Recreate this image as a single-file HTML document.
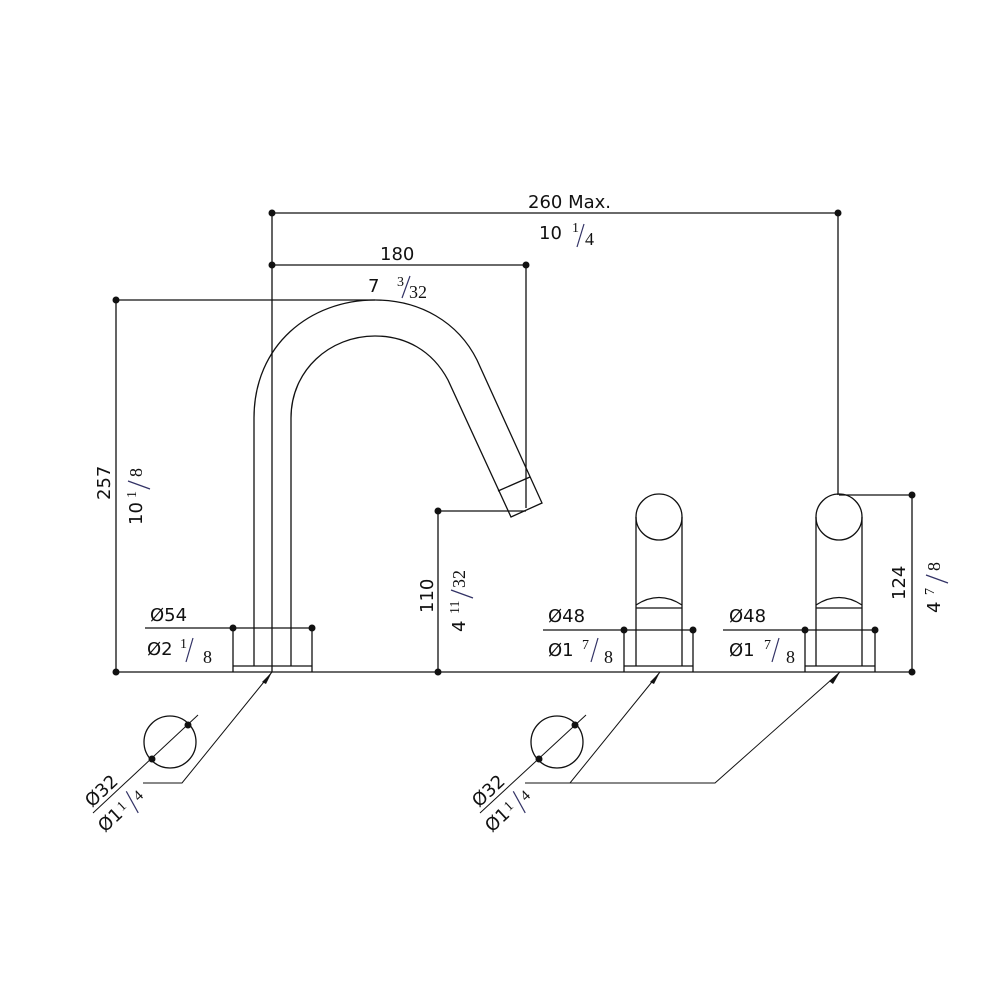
<!DOCTYPE html>
<html><head><meta charset="utf-8"><style>
html,body{margin:0;padding:0;background:#fff;}
svg{display:block;}
text{font-family:"DejaVu Sans","Liberation Sans",sans-serif;fill:#111;}
.f{font-family:"Liberation Serif",serif;}
</style></head><body>
<svg width="1000" height="1000" viewBox="0 0 1000 1000" xmlns="http://www.w3.org/2000/svg">
<g stroke="#111" stroke-width="1.3" fill="none">
<line x1="272" y1="213" x2="838" y2="213"/>
<line x1="272" y1="213" x2="272" y2="672"/>
<line x1="838" y1="213" x2="838" y2="495"/>
<line x1="272" y1="265" x2="526" y2="265"/>
<line x1="526" y1="265" x2="526" y2="508"/>
<line x1="116" y1="300" x2="375" y2="300"/>
<line x1="116" y1="300" x2="116" y2="672"/>
<line x1="116" y1="672" x2="912" y2="672"/>
<path d="M254 666 L254 418 C254 345 310 300 375 300 C420 300 458 322 477 360 L542 503 L511 517 L448 380 C432 350 405 336 375 336 C330 336 291 370 291 418 L291 666"/>
<line x1="498" y1="491" x2="530" y2="477"/>
<line x1="272" y1="300" x2="272" y2="672" stroke-dasharray="14,3,2,3" stroke-width="0.8"/>
<line x1="438" y1="511" x2="526" y2="511"/>
<line x1="438" y1="511" x2="438" y2="672"/>
<line x1="145" y1="628" x2="312" y2="628"/>
<line x1="233" y1="628" x2="233" y2="672"/>
<line x1="312" y1="628" x2="312" y2="672"/>
<line x1="233" y1="666" x2="312" y2="666"/>
<circle cx="659" cy="517" r="23"/>
<line x1="636" y1="517" x2="636" y2="666"/>
<line x1="682" y1="517" x2="682" y2="666"/>
<path d="M636 605 Q659 590 682 605"/>
<line x1="636" y1="608" x2="682" y2="608"/>
<line x1="543" y1="630" x2="693" y2="630"/>
<line x1="624" y1="630" x2="624" y2="672"/>
<line x1="693" y1="630" x2="693" y2="672"/>
<line x1="624" y1="666" x2="693" y2="666"/>
<circle cx="839" cy="517" r="23"/>
<line x1="816" y1="517" x2="816" y2="666"/>
<line x1="862" y1="517" x2="862" y2="666"/>
<path d="M816 605 Q839 590 862 605"/>
<line x1="816" y1="608" x2="862" y2="608"/>
<line x1="723" y1="630" x2="875" y2="630"/>
<line x1="805" y1="630" x2="805" y2="672"/>
<line x1="875" y1="630" x2="875" y2="672"/>
<line x1="805" y1="666" x2="875" y2="666"/>
<line x1="839" y1="495" x2="912" y2="495"/>
<line x1="912" y1="495" x2="912" y2="672"/>
<polyline points="272,672 182,783 143,783" stroke-width="1"/>
<circle cx="170" cy="742" r="26"/>
<line x1="93" y1="813" x2="198" y2="715" stroke-width="1"/>
<polyline points="660,672 570,783 525,783" stroke-width="1"/>
<polyline points="840,672 715,783 570,783" stroke-width="1"/>
<circle cx="557" cy="742" r="26"/>
<line x1="480" y1="813" x2="586" y2="715" stroke-width="1"/>
</g>
<g fill="#111">
<circle cx="272" cy="213" r="3.5"/><circle cx="838" cy="213" r="3.5"/>
<circle cx="272" cy="265" r="3.5"/><circle cx="526" cy="265" r="3.5"/>
<circle cx="116" cy="300" r="3.5"/><circle cx="116" cy="672" r="3.5"/>
<circle cx="438" cy="511" r="3.5"/><circle cx="438" cy="672" r="3.5"/>
<circle cx="233" cy="628" r="3.5"/><circle cx="312" cy="628" r="3.5"/>
<circle cx="624" cy="630" r="3.5"/><circle cx="693" cy="630" r="3.5"/>
<circle cx="805" cy="630" r="3.5"/><circle cx="875" cy="630" r="3.5"/>
<circle cx="912" cy="495" r="3.5"/><circle cx="912" cy="672" r="3.5"/>
<circle cx="188" cy="725" r="3.5"/><circle cx="152" cy="759" r="3.5"/>
<circle cx="575" cy="725" r="3.5"/><circle cx="539" cy="759" r="3.5"/>
<polygon points="272,672 262,682 266,684"/>
<polygon points="660,672 650,682 654,684"/>
<polygon points="840,672 829,681 833,684"/>
</g>
<g font-size="18">
<text x="528" y="208">260 Max.</text>
<text x="539" y="239">10</text>
<text x="572" y="232" class="f" font-size="14">1</text>
<line x1="584" y1="224" x2="577" y2="247" stroke="#336" stroke-width="1.2"/>
<text x="585" y="245" class="f">4</text>
<text x="380" y="260">180</text>
<text x="368" y="292">7</text>
<text x="397" y="286" class="f" font-size="14">3</text>
<line x1="410" y1="276" x2="402" y2="298" stroke="#336" stroke-width="1.2"/>
<text x="409" y="298" class="f">32</text>
<text x="150" y="621">Ø54</text>
<text x="147" y="655">Ø2</text>
<text x="180" y="648" class="f" font-size="14">1</text>
<line x1="193" y1="638" x2="186" y2="662" stroke="#336" stroke-width="1.2"/>
<text x="203" y="663" class="f">8</text>
<text x="548" y="622">Ø48</text>
<text x="548" y="656">Ø1</text>
<text x="582" y="649" class="f" font-size="14">7</text>
<line x1="598" y1="638" x2="591" y2="662" stroke="#336" stroke-width="1.2"/>
<text x="604" y="663" class="f">8</text>
<text x="729" y="622">Ø48</text>
<text x="729" y="656">Ø1</text>
<text x="764" y="649" class="f" font-size="14">7</text>
<line x1="779" y1="638" x2="772" y2="662" stroke="#336" stroke-width="1.2"/>
<text x="786" y="663" class="f">8</text>
<g transform="translate(110,500) rotate(-90)"><text x="0" y="0">257</text></g>
<g transform="translate(142,525) rotate(-90)"><text x="0" y="0">10</text><text x="27" y="-6" class="f" font-size="14">1</text><line x1="36" y1="8" x2="44" y2="-14" stroke="#336" stroke-width="1.2"/><text x="48" y="0" class="f">8</text></g>
<g transform="translate(433,613) rotate(-90)"><text x="0" y="0">110</text></g>
<g transform="translate(465,632) rotate(-90)"><text x="0" y="0">4</text><text x="18" y="-6" class="f" font-size="14">11</text><line x1="34" y1="8" x2="42" y2="-14" stroke="#336" stroke-width="1.2"/><text x="44" y="0" class="f">32</text></g>
<g transform="translate(905,600) rotate(-90)"><text x="0" y="0">124</text></g>
<g transform="translate(940,613) rotate(-90)"><text x="0" y="0">4</text><text x="18" y="-6" class="f" font-size="14">7</text><line x1="30" y1="8" x2="38" y2="-14" stroke="#336" stroke-width="1.2"/><text x="42" y="0" class="f">8</text></g>
<g transform="translate(92,808) rotate(-43)"><text x="0" y="0">Ø32</text></g>
<g transform="translate(105,833) rotate(-43)"><text x="0" y="0">Ø1</text><text x="27" y="-4" class="f" font-size="14">1</text><line x1="38" y1="8" x2="44" y2="-16" stroke="#336" stroke-width="1.2"/><text x="46" y="0" class="f" font-size="15">4</text></g>
<g transform="translate(479,808) rotate(-43)"><text x="0" y="0">Ø32</text></g>
<g transform="translate(492,833) rotate(-43)"><text x="0" y="0">Ø1</text><text x="27" y="-4" class="f" font-size="14">1</text><line x1="38" y1="8" x2="44" y2="-16" stroke="#336" stroke-width="1.2"/><text x="46" y="0" class="f" font-size="15">4</text></g>
</g>
</svg>
</body></html>
